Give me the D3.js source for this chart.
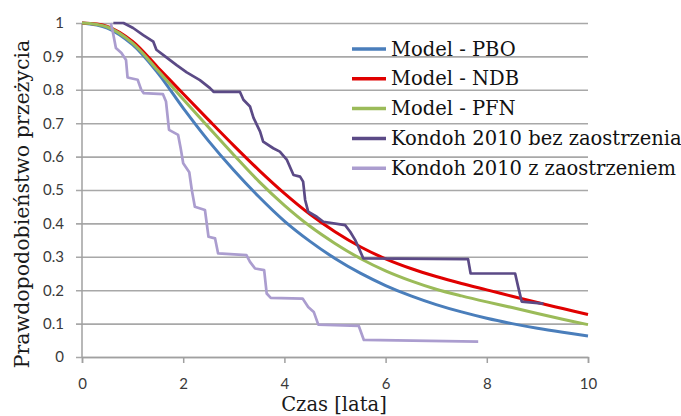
<!DOCTYPE html>
<html>
<head>
<meta charset="utf-8">
<script src="https://cdn.jsdelivr.net/npm/d3@7"></script>
<style>
  html, body { margin: 0; padding: 0; background: #fff; }
  svg { display: block; }
</style>
</head>
<body>
<div id="chart"></div>
<script>
// model curves, every half year
const modelT = [0, 0.5, 1, 1.5, 2, 2.5, 3, 3.5, 4, 4.5, 5, 5.5, 6, 6.5, 7, 7.5, 8, 8.5, 9, 9.5, 10];
const pbo = [1, 0.985, 0.935, 0.85, 0.745, 0.647, 0.559, 0.479, 0.407, 0.347, 0.295, 0.251, 0.214, 0.183, 0.157, 0.135, 0.116, 0.10, 0.086, 0.074, 0.063];
const ndb = [1, 0.99, 0.945, 0.867, 0.788, 0.71, 0.633, 0.559, 0.49, 0.428, 0.375, 0.33, 0.294, 0.265, 0.241, 0.22, 0.201, 0.182, 0.163, 0.145, 0.127];
const pfn = [1, 0.988, 0.94, 0.858, 0.772, 0.688, 0.605, 0.525, 0.454, 0.392, 0.34, 0.295, 0.258, 0.228, 0.203, 0.183, 0.165, 0.148, 0.13, 0.113, 0.097];

// Kondoh 2010 bez zaostrzenia
const bezT = [0.62, 0.82, 1.01, 1.21, 1.41, 1.47, 1.61, 1.87, 2.07, 2.33, 2.53, 2.6, 3.12, 3.19, 3.32, 3.39, 3.52, 3.58, 3.78, 3.91, 4.05, 4.18, 4.31, 4.37, 4.41, 4.47, 4.64, 4.77, 5.2, 5.3, 5.4, 5.46, 5.56, 7.63, 7.68, 8.56, 8.62, 8.69, 9.12];
const bezP = [1.0, 1.0, 0.985, 0.964, 0.944, 0.92, 0.904, 0.874, 0.852, 0.829, 0.805, 0.794, 0.794, 0.77, 0.75, 0.716, 0.675, 0.645, 0.625, 0.615, 0.59, 0.545, 0.54, 0.525, 0.47, 0.435, 0.42, 0.405, 0.395, 0.375, 0.35, 0.33, 0.295, 0.293, 0.25, 0.25, 0.21, 0.166, 0.16];

// Kondoh 2010 z zaostrzeniem
const zT = [0.57, 0.62, 0.67, 0.78, 0.87, 0.9, 1.1, 1.17, 1.22, 1.6, 1.66, 1.72, 1.9, 1.95, 2.0, 2.12, 2.17, 2.23, 2.43, 2.5, 2.63, 2.69, 3.25, 3.32, 3.42, 3.6, 3.65, 3.73, 4.36, 4.47, 4.58, 4.67, 5.47, 5.57, 7.83];
const zP = [1.0, 0.965, 0.925, 0.91, 0.889, 0.837, 0.83, 0.8, 0.79, 0.787, 0.765, 0.68, 0.665, 0.625, 0.58, 0.553, 0.5, 0.45, 0.44, 0.36, 0.355, 0.31, 0.305, 0.285, 0.265, 0.26, 0.19, 0.177, 0.175, 0.15, 0.135, 0.097, 0.093, 0.051, 0.046];

const xTicks = [0, 2, 4, 6, 8, 10];
const yTicks = [0, 0.1, 0.2, 0.3, 0.4, 0.5, 0.6, 0.7, 0.8, 0.9, 1];

const series = [
  { name: 'Model - PBO', t: modelT, p: pbo, color: '#4a7ebb', width: 3, smooth: true },
  { name: 'Model - NDB', t: modelT, p: ndb, color: '#e00000', width: 3, smooth: true },
  { name: 'Model - PFN', t: modelT, p: pfn, color: '#9bbb59', width: 3, smooth: true },
  { name: 'Kondoh 2010 bez zaostrzenia', t: bezT, p: bezP, color: '#5b4a86', width: 2.7, smooth: false },
  { name: 'Kondoh 2010 z zaostrzeniem', t: zT, p: zP, color: '#ab9dcf', width: 2.7, smooth: false },
];

const width = 681;
const height = 416;
const margin = { top: 23, right: 93, bottom: 59, left: 82 };
const plotW = width - margin.left - margin.right;

const svg = d3.select('#chart')
  .append('svg')
  .attr('width', width)
  .attr('height', height);

const x = d3.scaleLinear().domain([0, 10]).range([margin.left, width - margin.right]);
const y = d3.scaleLinear().domain([0, 1]).range([height - margin.bottom, margin.top]);

// gridlines + y labels
const yAxis = svg.append('g')
  .attr('transform', `translate(${margin.left - 6},0)`)
  .call(d3.axisLeft(y).tickValues(yTicks).tickFormat(d3.format('~g'))
    .tickSizeInner(-(plotW + 6)).tickSizeOuter(0).tickPadding(12));
yAxis.select('.domain').remove();
yAxis.selectAll('line').attr('stroke', '#a8a8a8').attr('stroke-width', 1.6);
yAxis.selectAll('text')
  .style('font-family', 'Lato, sans-serif')
  .style('font-size', '15px')
  .attr('fill', '#3a3a3a');

// left axis line
svg.append('line')
  .attr('x1', margin.left).attr('x2', margin.left)
  .attr('y1', margin.top).attr('y2', height - margin.bottom)
  .attr('stroke', '#a0a0a0').attr('stroke-width', 1.5);

// x axis
const xAxis = svg.append('g')
  .attr('transform', `translate(0,${height - margin.bottom})`)
  .call(d3.axisBottom(x).tickValues(xTicks).tickSize(6).tickPadding(15));
xAxis.select('.domain').attr('stroke', '#a0a0a0').attr('stroke-width', 1.5);
xAxis.selectAll('line').attr('stroke', '#a0a0a0').attr('stroke-width', 1.5);
xAxis.selectAll('text')
  .style('font-family', 'Lato, sans-serif')
  .style('font-size', '15px')
  .attr('fill', '#3a3a3a');

// lines
series.forEach((s) => {
  const pts = s.t.map((t, i) => [t, s.p[i]]);
  const line = d3.line()
    .x((d) => x(d[0]))
    .y((d) => y(d[1]))
    .curve(s.smooth ? d3.curveCatmullRom : d3.curveLinear);
  svg.append('path')
    .datum(pts)
    .attr('d', line)
    .attr('fill', 'none')
    .attr('stroke', s.color)
    .attr('stroke-width', s.width)
    .attr('stroke-linejoin', 'round');
});

// legend
const legend = svg.append('g').attr('transform', 'translate(352,49)');
series.forEach((s, i) => {
  const row = legend.append('g').attr('transform', `translate(0,${i * 29.8})`);
  row.append('line')
    .attr('x1', 0).attr('x2', 34)
    .attr('stroke', s.color)
    .attr('stroke-width', 3.5);
  row.append('text')
    .attr('x', 39)
    .attr('y', 6.5)
    .style('font-family', '"DejaVu Serif", serif')
    .style('font-size', '19.5px')
    .attr('fill', '#111')
    .text(s.name);
});

// axis titles
svg.append('text')
  .attr('x', x(5) - 1)
  .attr('y', 411)
  .attr('text-anchor', 'middle')
  .style('font-family', '"DejaVu Serif", serif')
  .style('font-size', '19.5px')
  .attr('fill', '#1a1a1a')
  .text('Czas [lata]');

svg.append('text')
  .attr('transform', 'translate(29,204) rotate(-90)')
  .attr('text-anchor', 'middle')
  .style('font-family', '"DejaVu Serif", serif')
  .style('font-size', '20.5px')
  .attr('fill', '#1a1a1a')
  .text('Prawdopodobieństwo przeżycia');
</script>
</body>
</html>
